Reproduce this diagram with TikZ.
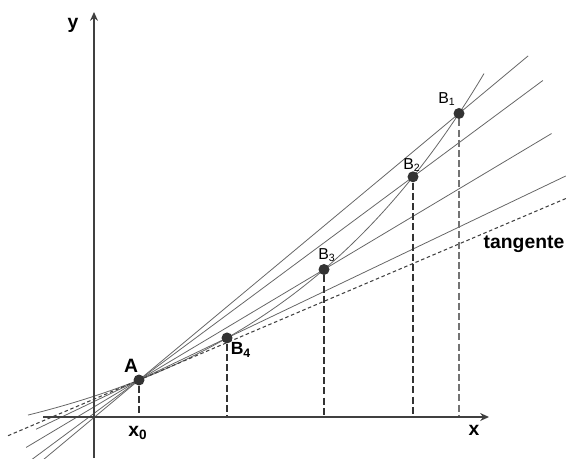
\documentclass[tikz,border=0pt]{standalone}
\usepackage{fontspec}
\setmainfont{Liberation Sans}
\usetikzlibrary{arrows.meta,calc,backgrounds}

\begin{document}
\begin{tikzpicture}[
  x=0.02cm, y=-0.02cm,
  >={Stealth[length=5pt, width=4.5pt]},
  axis/.style={->, line width=1.1pt, black!75},
  sec/.style={black!60, line width=0.45pt},
  tang/.style={black!75, line width=0.6pt, dash pattern=on 2pt off 1.5pt},
  drop/.style={black!80, line width=0.6pt, dash pattern=on 4pt off 1.8pt},
  dot/.style={circle, fill=black!80, inner sep=0pt, minimum size=0.22cm},
  lbl/.style={font=\fontsize{11}{13}\selectfont\bfseries, inner sep=0pt},
  slbl/.style={font=\fontsize{9}{11}\selectfont, inner sep=0pt},
  declare function={f(\u)=94.2*(exp(0.0042*\u)-1);},
]
\useasboundingbox (0,0) rectangle (567,458);

% axes
\coordinate (O)  at (94,417);
\coordinate (xl) at (43,417);
\coordinate (xr) at (489,417);
\coordinate (yb) at (94,458);
\coordinate (yt) at (94,12);
\draw[axis] (xl) -- (xr);
\draw[axis] (yb) -- (yt);
\node[lbl] (ylab) at (73,25)  {y};
\node[lbl] (xlab) at (474,430) {x};

% point A and the points B on the curve
\node[dot] (A)  at (139,380) {};
\node[dot] (B4) at ({139+88},{380-f(88)})   {};
\node[dot] (B3) at ({139+185},{380-f(185)}) {};
\node[dot] (B2) at ({139+274},{380-f(274)}) {};
\node[dot] (B1) at ({139+320},{380-f(320)}) {};

\node[lbl] (Alab)  at (131,366) {A};
\node[lbl] (x0lab) at (138,433) {x\textsubscript{0}};
\node[lbl, font=\fontsize{10}{12}\selectfont\bfseries] (B4lab) at (241,350) {B\textsubscript{4}};
\node[slbl] (B3lab) at (327,255) {B\textsubscript{3}};
\node[slbl] (B2lab) at (412,165) {B\textsubscript{2}};
\node[slbl] (B1lab) at (447,99)  {B\textsubscript{1}};
\node[lbl]  (tlab)  at (524,244) {tangente};

\begin{scope}[on background layer]
  % curve
  \draw[sec] plot[domain=-111:345, samples=80] ({139+\x},{380-f(\x)});

  % secants through A
  \draw[sec] ($(A)!-0.30!(B1)$) -- ($(A)!1.216!(B1)$);
  \draw[sec] ($(A)!-0.39!(B2)$) -- ($(A)!1.474!(B2)$);
  \draw[sec] ($(A)!-0.61!(B3)$) -- ($(A)!2.23!(B3)$);
  \draw[sec] ($(A)!-1.17!(B4)$) -- ($(A)!4.85!(B4)$);

  % tangent at A
  \draw[tang] ($(A)+(-131,55.7)$) -- ($(A)+(428,-182)$);

  % drops to the x axis
  \draw[drop] (A)  -- (A |- O);
  \draw[drop] (B4) -- (B4 |- O);
  \draw[drop] (B3) -- (B3 |- O);
  \draw[drop] (B2) -- (B2 |- O);
  \draw[drop, black!55] (B1) -- (B1 |- O);
\end{scope}

\end{tikzpicture}
\end{document}
